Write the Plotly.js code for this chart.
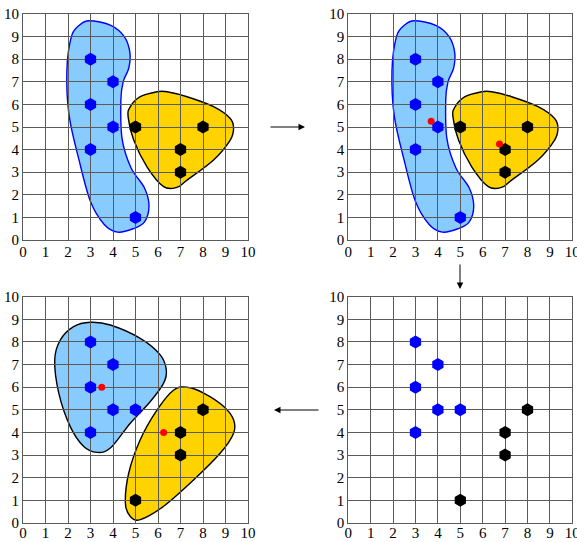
<!DOCTYPE html>
<html><head><meta charset="utf-8">
<script src="https://cdn.plot.ly/plotly-3.0.1.min.js"></script>
<style>html,body{margin:0;padding:0;background:#fff}#chart{width:577px;height:542px}</style>
</head><body><div id="chart"></div><script>
// ---- data ----
const tickVals = [0,1,2,3,4,5,6,7,8,9,10];
const tickText = ["0","1","2","3","4","5","6","7","8","9","10"];

// step 1/2 assignment
const blueX_a = [3,4,3,4,3,5];
const blueY_a = [8,7,6,5,4,1];
const blackX_a = [5,8,7,7];
const blackY_a = [5,5,4,3];
// step 3/4 assignment
const blueX_b = [3,4,3,4,5,3];
const blueY_b = [8,7,6,5,5,4];
const blackX_b = [8,7,7,5];
const blackY_b = [5,4,3,1];
// centroids (red)
const centX_2 = [3.7, 6.75];
const centY_2 = [5.25, 4.25];
const centX_3 = [3.5, 6.25];
const centY_3 = [6.0, 4.0];

// cluster outlines (data coordinates)
const blueBlobAX = [2.95,3.9,4.5,4.75,4.7,4.45,4.35,4.4,4.8,5.4,5.6,5.4,4.9,4.2,3.6,3.0,2.5,2.05,1.95,2.15,2.5];
const blueBlobAY = [9.7,9.5,9.0,8.3,7.6,7.0,6.2,4.5,3.2,2.3,1.5,0.8,0.5,0.35,0.7,1.7,3.5,5.5,7.5,9.0,9.5];
const yellowBlobAX = [5.96,6.4,7.29,8.47,9.21,9.36,9.21,8.47,7.29,6.84,6.25,5.51,4.92,4.67,4.77,5.21];
const yellowBlobAY = [6.56,6.56,6.34,5.9,5.38,4.94,4.42,3.54,2.65,2.33,2.36,3.24,4.42,5.46,5.9,6.34];
const blueBlobBX = [2.99,3.88,5.21,6.1,6.37,6.25,5.66,4.77,3.88,3.29,2.7,2.1,1.59,1.41,1.66,2.25];
const blueBlobBY = [8.87,8.75,8.16,7.43,6.76,6.18,5.37,4.41,3.31,3.12,3.38,4.26,5.74,7.21,8.09,8.68];
const yellowBlobBX = [7.29,8.03,8.92,9.36,9.36,8.77,7.59,6.25,5.21,4.77,4.55,4.7,5.21,5.96,6.7];
const yellowBlobBY = [6.0,5.74,5.15,4.56,3.97,3.09,1.91,0.74,0.15,0.29,0.88,2.21,3.68,5.0,5.88];

// ---- helpers ----
function smoothPath(xs, ys){
  const n = xs.length;
  const P = i => [xs[(i+n)%n], ys[(i+n)%n]];
  let d = 'M' + xs[0] + ',' + ys[0];
  for(let i=0;i<n;i++){
    const p0=P(i-1), p1=P(i), p2=P(i+1), p3=P(i+2);
    const c1=[p1[0]+(p2[0]-p0[0])/6, p1[1]+(p2[1]-p0[1])/6];
    const c2=[p2[0]-(p3[0]-p1[0])/6, p2[1]-(p3[1]-p1[1])/6];
    d += ' C'+c1[0].toFixed(3)+','+c1[1].toFixed(3)+' '+c2[0].toFixed(3)+','+c2[1].toFixed(3)+' '+p2[0]+','+p2[1];
  }
  return d + ' Z';
}
function blob(xs, ys, fill, line, ax){
  return {type:'path', path:smoothPath(xs,ys), xref:ax[0], yref:ax[1], layer:'below',
          fillcolor:fill, line:{color:line, width:1.4}};
}
const BLUE_FILL='#88ccff', GOLD='#ffd300';
function pts(xs, ys, color, ax){
  return {x:xs, y:ys, xaxis:ax[0], yaxis:ax[1], type:'scatter', mode:'markers', hoverinfo:'skip',
          marker:{symbol:'hexagon', size:13, color:color, line:{width:0}}, cliponaxis:false};
}
function red(xs, ys, ax){
  return {x:xs, y:ys, xaxis:ax[0], yaxis:ax[1], type:'scatter', mode:'markers', hoverinfo:'skip',
          marker:{symbol:'circle', size:7, color:'#ff0000', line:{width:0}}};
}
const A1=['x','y'], A2=['x2','y2'], A3=['x3','y3'], A4=['x4','y4'];

const traces = [
  pts(blueX_a, blueY_a, '#0000ff', A1), pts(blackX_a, blackY_a, '#000000', A1),
  pts(blueX_a, blueY_a, '#0000ff', A2), pts(blackX_a, blackY_a, '#000000', A2), red(centX_2, centY_2, A2),
  pts(blueX_b, blueY_b, '#0000ff', A3), pts(blackX_b, blackY_b, '#000000', A3), red(centX_3, centY_3, A3),
  pts(blueX_b, blueY_b, '#0000ff', A4), pts(blackX_b, blackY_b, '#000000', A4)
];

const W=577, H=542;
function dx(a,b){return [a/W, b/W];}
function dy(top,bottom){return [1-bottom/H, 1-top/H];}
function axis(domain, anchor, isX, standoff){
  const a = {domain:domain, anchor:anchor, range:[0,10], tickvals:tickVals, ticktext:tickText,
          showgrid:true, gridcolor:'#5a5a5a', gridwidth:1, zeroline:false,
          showline:true, mirror:true, linecolor:'#5a5a5a', linewidth:1,
          ticks:'', fixedrange:true, ticklabeloverflow:'allow',
          tickfont:{family:'Liberation Serif, serif', size:15, color:'#000'}};
  if(standoff!==undefined) a.ticklabelstandoff = standoff;
  return a;
}
const layout = {
  width:W, height:H, margin:{l:0,r:0,t:0,b:0}, showlegend:false,
  paper_bgcolor:'#fff', plot_bgcolor:'rgba(0,0,0,0)',
  xaxis: axis(dx(23,248),'y',true,-2),   yaxis: axis(dy(14,240),'x'),
  xaxis2: axis(dx(348.3,572.3),'y2',true,-2), yaxis2: axis(dy(14,240),'x2'),
  xaxis3: axis(dx(23,248),'y3',true,-4),  yaxis3: axis(dy(296.7,523),'x3'),
  xaxis4: axis(dx(348.3,572.3),'y4',true,-4), yaxis4: axis(dy(296.7,523),'x4'),
  shapes: [
    blob(blueBlobAX, blueBlobAY, BLUE_FILL, '#0000ff', A1),
    blob(yellowBlobAX, yellowBlobAY, GOLD, '#000000', A1),
    blob(blueBlobAX, blueBlobAY, BLUE_FILL, '#0000ff', A2),
    blob(yellowBlobAX, yellowBlobAY, GOLD, '#000000', A2),
    blob(blueBlobBX, blueBlobBY, BLUE_FILL, '#000000', A3),
    blob(yellowBlobBX, yellowBlobBY, GOLD, '#000000', A3)
  ],
  annotations: [
    {xref:'paper', yref:'paper', x:305/W, y:1-127/H, ax:-36, ay:0, text:'', showarrow:true, arrowhead:2, arrowsize:1.3, arrowwidth:1, arrowcolor:'#000'},
    {xref:'paper', yref:'paper', x:460/W, y:1-289/H, ax:0, ay:-26, text:'', showarrow:true, arrowhead:2, arrowsize:1.3, arrowwidth:1, arrowcolor:'#000'},
    {xref:'paper', yref:'paper', x:274/W, y:1-410/H, ax:46, ay:0, text:'', showarrow:true, arrowhead:2, arrowsize:1.3, arrowwidth:1, arrowcolor:'#000'}
  ]
};
Plotly.newPlot('chart', traces, layout, {displayModeBar:false, staticPlot:true});
</script></body></html>
